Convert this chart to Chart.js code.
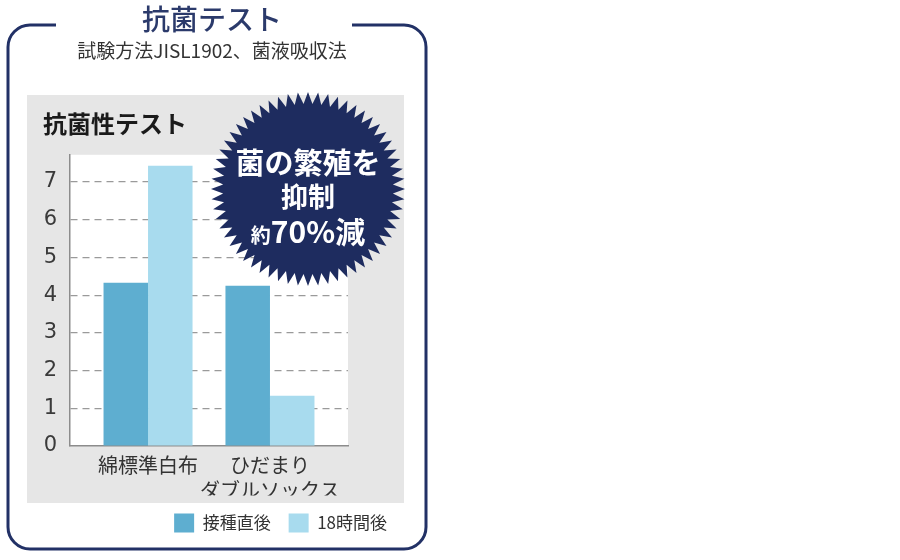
<!DOCTYPE html>
<html lang="ja">
<head>
<meta charset="utf-8">
<title>抗菌テスト</title>
<script src="https://cdn.jsdelivr.net/npm/chart.js@4.4.1/dist/chart.umd.min.js"></script>
<style>
  body { margin: 0; background: #fff; }
  #wrap { position: relative; width: 900px; height: 560px; }
  #wrap canvas { position: absolute; left: 0; top: 0; }
  .note { position: absolute; white-space: nowrap; pointer-events: none;
          font-family: "Noto Sans CJK JP", "Noto Sans", sans-serif; }
  #panelTitle { left: 43px; top: 111px; font-size: 24px; line-height: 24px; font-weight: 700; color: #1a1a1a; }
  .burst { left: 208px; width: 200px; text-align: center; color: #fff; font-weight: 700; }
  #burst1 { top: 147px; font-size: 29px; line-height: 29px; }
  #burst2 { top: 182px; font-size: 27px; line-height: 27px; }
  #burst3 { top: 215px; font-size: 30px; line-height: 30px; }
  #burst3 small { font-size: 20px; }
</style>
</head>
<body>
<div id="wrap">
  <canvas id="kinChart" width="900" height="560"></canvas>
  <div class="note" id="panelTitle">抗菌性テスト</div>
  <div class="note burst" id="burst1">菌の繁殖を</div>
  <div class="note burst" id="burst2">抑制</div>
  <div class="note burst" id="burst3"><small>約</small>70%減</div>
</div>
<script>
// データ
const categories = [['綿標準白布'], ['ひだまり', 'ダブルソックス']];
const seriesNames = ['接種直後', '18時間後'];
const afterInoculation = [4.33, 4.25];
const after18Hours = [7.43, 1.33];
const yTickValues = [0, 1, 2, 3, 4, 5, 6, 7];

const FONT = '"Noto Sans CJK JP", "Noto Sans", sans-serif';
const NAVY = '#223166';

// 背景: 枠線・グレーパネル・白いプロット領域
const backgroundPlugin = {
    id: 'background',
    beforeDraw: function(chart) {
        const ctx = chart.ctx;
        const area = chart.chartArea;
        ctx.save();
        ctx.fillStyle = '#fff';
        ctx.fillRect(0, 0, chart.width, chart.height);

        // 角丸の枠 (上辺はタイトル部分が切れている)
        const l = 8, t = 25, r = 426, b = 549, rad = 22;
        ctx.strokeStyle = NAVY;
        ctx.lineWidth = 3;
        ctx.beginPath();
        ctx.moveTo(56, t);
        ctx.lineTo(l + rad, t);
        ctx.arcTo(l, t, l, t + rad, rad);
        ctx.lineTo(l, b - rad);
        ctx.arcTo(l, b, l + rad, b, rad);
        ctx.lineTo(r - rad, b);
        ctx.arcTo(r, b, r, b - rad, rad);
        ctx.lineTo(r, t + rad);
        ctx.arcTo(r, t, r - rad, t, rad);
        ctx.lineTo(352, t);
        ctx.stroke();

        ctx.fillStyle = '#e6e6e6';
        ctx.fillRect(27, 95, 377, 408);

        ctx.fillStyle = '#fff';
        ctx.fillRect(area.left, area.top, area.right - area.left, area.bottom - area.top);
        ctx.restore();
    }
};

// ギザギザの吹き出し
const burstPlugin = {
    id: 'burst',
    afterDatasetsDraw: function(chart) {
        const ctx = chart.ctx;
        const cx = 308, cy = 189, outer = 97, inner = 85, spikes = 60;
        ctx.save();
        ctx.fillStyle = '#1e2c5f';
        ctx.beginPath();
        for (let i = 0; i < spikes * 2; i++) {
            const rr = i % 2 === 0 ? outer : inner;
            const a = -Math.PI / 2 + i * Math.PI / spikes;
            const px = cx + rr * Math.cos(a);
            const py = cy + rr * Math.sin(a);
            if (i === 0) ctx.moveTo(px, py); else ctx.lineTo(px, py);
        }
        ctx.closePath();
        ctx.fill();
        ctx.restore();
    }
};

const toPoints = arr => arr.map((v, i) => ({ x: i + 1, y: v }));

new Chart(document.getElementById('kinChart'), {
    type: 'bar',
    data: {
        datasets: [
            { label: seriesNames[0], data: toPoints(afterInoculation), backgroundColor: '#5eaed0', borderWidth: 0 },
            { label: seriesNames[1], data: toPoints(after18Hours), backgroundColor: '#a8dbee', borderWidth: 0 }
        ]
    },
    options: {
        responsive: false,
        animation: false,
        devicePixelRatio: 1,
        categoryPercentage: 0.73,
        barPercentage: 1.0,
        layout: { padding: { top: 3, left: 19, right: 495, bottom: 17.5 } },
        plugins: {
            tooltip: { enabled: false },
            title: {
                display: true,
                text: '抗菌テスト',
                color: '#2b3a6b',
                font: { family: FONT, size: 28, weight: '500' },
                padding: { top: 0, bottom: 0 }
            },
            subtitle: {
                display: true,
                text: '試験方法JISL1902、菌液吸収法',
                color: '#333',
                font: { family: FONT, size: 19, weight: 'normal' },
                padding: { top: 3, bottom: 92.4 }
            },
            legend: {
                position: 'bottom',
                align: 'end',
                labels: {
                    color: '#333',
                    font: { family: FONT, size: 17 },
                    boxWidth: 20,
                    boxHeight: 19,
                    padding: 18
                }
            }
        },
        scales: {
            x: {
                type: 'linear',
                min: 0.36,
                max: 2.64,
                offset: false,
                grid: { display: false, drawTicks: false },
                border: { display: true, color: '#8c8c8c', width: 1.5 },
                afterBuildTicks: axis => { axis.ticks = categories.map((c, i) => ({ value: i + 1 })); },
                afterFit: axis => { axis.height = 49.5; },
                ticks: {
                    autoSkip: false,
                    maxRotation: 0,
                    padding: 6.5,
                    color: '#333',
                    font: { family: FONT, size: 20, lineHeight: 1.25 },
                    callback: value => categories[Math.round(value) - 1]
                }
            },
            y: {
                min: 0,
                max: 7.72,
                afterBuildTicks: axis => { axis.ticks = yTickValues.map(v => ({ value: v })); },
                afterFit: axis => { axis.width = 51; },
                grid: {
                    drawTicks: false,
                    color: c => (c.tick && c.tick.value === 0) ? 'rgba(0,0,0,0)' : '#9a9a9a',
                    lineWidth: 1.2
                },
                border: { display: true, color: '#8c8c8c', width: 1.5, dash: [7, 5] },
                ticks: {
                    padding: 13,
                    color: '#3a3a3a',
                    font: { family: '"DejaVu Sans", sans-serif', size: 21 },
                    callback: value => String(value)
                }
            },
            // 右側の余白用 (表示なし)
            yPad: {
                position: 'right',
                display: true,
                grid: { display: false },
                border: { display: false },
                ticks: { display: false },
                afterFit: axis => { axis.width = 57; }
            }
        }
    },
    plugins: [backgroundPlugin, burstPlugin]
});
</script>
</body>
</html>
